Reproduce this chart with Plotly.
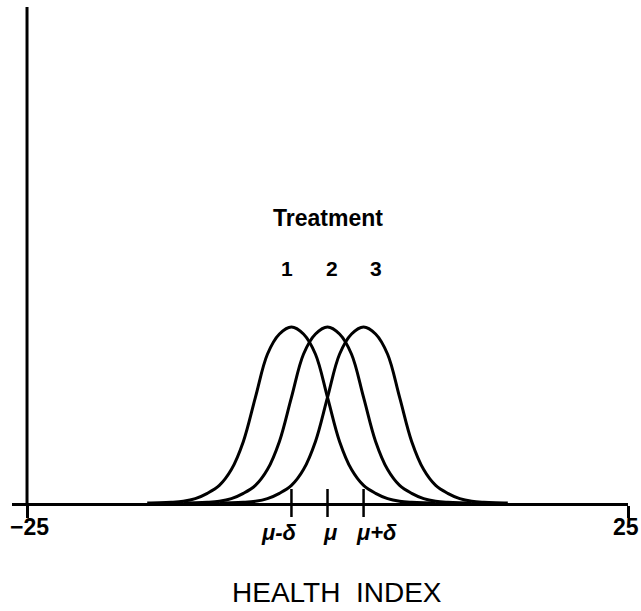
import plotly.graph_objects as go

# Data
centers = [-3.0, 0.0, 3.0]                 # mu - delta, mu, mu + delta
treatment_names = ["1", "2", "3"]
offsets = [-12, -11, -10, -9, -8, -7, -6, -5, -4, -3, -2, -1, 0,
           1, 2, 3, 4, 5, 6, 7, 8, 9, 10, 11, 12]
heights = [0.0, 0.001, 0.004, 0.010, 0.025, 0.055, 0.10, 0.19, 0.35, 0.60, 0.845, 0.96,
           1.0, 0.96, 0.845, 0.60, 0.35, 0.19, 0.10, 0.055, 0.025, 0.010, 0.004, 0.001, 0.0]
end_ticks = [-25, 25]
end_tick_text = ["\u221225", "25"]
mu_labels = ["\u03bc-\u03b4", "\u03bc", "\u03bc+\u03b4"]

FONT = "Liberation Sans"

fig = go.Figure()
for c in centers:
    fig.add_trace(go.Scatter(
        x=[c + o for o in offsets], y=heights, mode="lines",
        line=dict(color="black", width=3, shape="spline", smoothing=1.0),
        hoverinfo="skip", showlegend=False))

# crossing tick marks at mu-delta, mu, mu+delta
fig.add_trace(go.Scatter(
    x=centers, y=[0] * len(centers), mode="markers",
    marker=dict(symbol="line-ns-open", size=20, color="black",
                line=dict(color="black", width=2.5)),
    cliponaxis=False, hoverinfo="skip", showlegend=False))

annotations = []
annotations.append(dict(x=0.04, y=1.62, xref="x", yref="y", text="<b>Treatment</b>",
                        showarrow=False, xanchor="center", yanchor="middle",
                        font=dict(family=FONT, size=23, color="black")))
num_x = [-3.37, 0.37, 4.04]
for nx, name in zip(num_x, treatment_names):
    annotations.append(dict(x=nx, y=1.335, xref="x", yref="y", text="<b>%s</b>" % name,
                            showarrow=False, xanchor="center", yanchor="middle",
                            font=dict(family=FONT, size=21, color="black")))
lab_x = [-4.03, 0.21, 4.04]
for lx, lab in zip(lab_x, mu_labels):
    annotations.append(dict(x=lx, y=-0.0585, xref="x", yref="paper",
                            text="<b><i>%s</i></b>" % lab, showarrow=False,
                            xanchor="center", yanchor="middle",
                            font=dict(family=FONT, size=22, color="black")))
end_lab_x = [-24.8, 24.85]
for ex, et in zip(end_lab_x, end_tick_text):
    annotations.append(dict(x=ex, y=-0.0484, xref="x", yref="paper",
                            text="<b>%s</b>" % et, showarrow=False,
                            xanchor="center", yanchor="middle",
                            font=dict(family=FONT, size=23, color="black")))
annotations.append(dict(x=0.5276, y=-0.181, xref="paper", yref="paper",
                        text="HEALTH  INDEX", showarrow=False,
                        xanchor="center", yanchor="middle",
                        font=dict(family=FONT, size=28, color="black")))

fig.update_layout(
    width=641, height=611,
    margin=dict(l=12, r=13, t=7, b=108),
    paper_bgcolor="white", plot_bgcolor="white",
    xaxis=dict(range=[-26.25, 25], showgrid=False, zeroline=False, automargin=False,
               showline=True, linecolor="black", linewidth=3,
               tickmode="array", tickvals=end_ticks, showticklabels=False,
               ticks="outside", ticklen=12, tickwidth=2.5, tickcolor="black"),
    yaxis=dict(range=[0, 2.818], showgrid=False, zeroline=False, showline=False,
               showticklabels=False, ticks="", automargin=False),
    annotations=annotations,
    shapes=[dict(type="line", xref="x", yref="paper", x0=-25, x1=-25, y0=0, y1=1,
                 line=dict(color="black", width=3))],
)

fig.write_html("out.html")
